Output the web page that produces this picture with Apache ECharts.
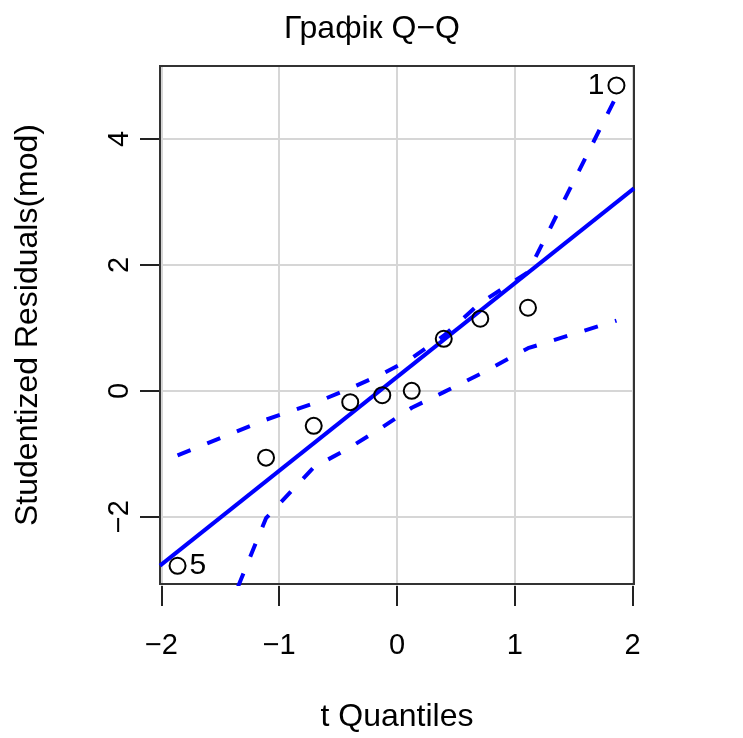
<!DOCTYPE html>
<html>
<head>
<meta charset="utf-8">
<script src="https://cdn.jsdelivr.net/npm/echarts@6/dist/echarts.min.js"></script>
<style>
  html, body { margin: 0; padding: 0; background: #fff; }
  #chart { width: 743px; height: 738px; }
</style>
</head>
<body>
<div id="chart"></div>
<script>
// t quantiles (x) and sorted studentized residuals (y)
var tQuantiles = [-1.863, -1.112, -0.707, -0.397, -0.125, 0.125, 0.397, 0.707, 1.112, 1.863];
var residuals = [-2.81, -1.085, -0.578, -0.2, -0.09, -0.02, 0.81, 1.13, 1.305, 4.85];
// simulated envelope
var upperBand = [-1.05, -0.48, -0.22, 0.02, 0.25, 0.5, 0.86, 1.38, 1.87, 4.68];
var lowerBand = [-5.5, -2.05, -1.24, -0.92, -0.6, -0.29, -0.04, 0.25, 0.66, 1.1];
// labelled observations (index -> id)
var pointIds = { 0: "5", 9: "1" };
// reference line
var lineIntercept = 0.2;
var lineSlope = 1.495;
// axes
var xTicks = [-2, -1, 0, 1, 2];
var yTicks = [-2, 0, 2, 4];
var xMin = -2.012, xMax = 2.012;
var yMin = -3.1, yMax = 5.16;

var FONT = "Liberation Sans, Arial, Helvetica, sans-serif";
function fmt(v) {
  return v < 0 ? "\u2212" + Math.abs(v) : String(v);
}

// plot box in pixels
var box = { left: 160, top: 66, width: 474, height: 520 };
// sub-boxes spanning exactly the tick range, so ticks start at a round value
var xFirst = xTicks[0], xLast = xTicks[xTicks.length - 1];
var yFirst = yTicks[0], yLast = yTicks[yTicks.length - 1];
var xScale = box.width / (xMax - xMin);
var yScale = box.height / (yMax - yMin);
var xTickBox = {
  left: box.left + (xFirst - xMin) * xScale,
  width: (xLast - xFirst) * xScale,
  top: box.top,
  height: box.height,
};
var yTickBox = {
  left: box.left,
  width: box.width,
  top: box.top + (yMax - yLast) * yScale,
  height: (yLast - yFirst) * yScale,
};

var pointData = [];
for (var i = 0; i < tQuantiles.length; i++) {
  var item = { value: [tQuantiles[i], residuals[i]] };
  if (pointIds[i]) {
    item.label = {
      show: true,
      formatter: pointIds[i],
      position: i === 0 ? "right" : "left",
      distance: 3,
      fontSize: 30,
      fontFamily: FONT,
      color: "#000",
    };
  }
  pointData.push(item);
}

var refLine = [xMin, xMax].map(function (x) {
  return [x, lineIntercept + lineSlope * x];
});

var dashStyle = { color: "#0000ff", width: 4, type: [14, 18], cap: "butt" };
var tickStyle = { show: true, length: 20, lineStyle: { color: "#222", width: 2 } };
var labelBase = { formatter: fmt, fontFamily: FONT, fontSize: 29, color: "#000" };
var gridLineStyle = { show: true, lineStyle: { color: "#d6d6d6", width: 2 } };
var hidden = { show: false };

var option = {
  animation: false,
  backgroundColor: "#fff",
  title: {
    text: "Графік Q\u2212Q",
    left: 367,
    top: 8,
    textAlign: "center",
    textStyle: { fontFamily: FONT, fontSize: 32, fontWeight: "normal", color: "#000" },
  },
  grid: [
    Object.assign({ show: true, borderColor: "#333", borderWidth: 2, backgroundColor: "transparent", z: 3 }, box),
    Object.assign({ show: false }, xTickBox),
    Object.assign({ show: false }, yTickBox),
  ],
  xAxis: [
    {
      gridIndex: 0, type: "value", min: xMin, max: xMax,
      name: "t Quantiles",
      nameLocation: "middle",
      nameGap: 117,
      nameTextStyle: { fontFamily: FONT, fontSize: 32, color: "#000" },
      axisLine: hidden, axisTick: hidden, axisLabel: hidden, splitLine: hidden,
    },
    {
      gridIndex: 1, type: "value", min: xFirst, max: xLast, interval: 1,
      axisLine: { show: false, onZero: false },
      axisTick: tickStyle,
      axisLabel: Object.assign({ margin: 45 }, labelBase),
      splitLine: gridLineStyle,
    },
    {
      gridIndex: 2, type: "value", min: xMin, max: xMax,
      axisLine: hidden, axisTick: hidden, axisLabel: hidden, splitLine: hidden,
    },
  ],
  yAxis: [
    {
      gridIndex: 0, type: "value", min: yMin, max: yMax,
      name: "Studentized Residuals(mod)",
      nameLocation: "middle",
      nameGap: 116,
      nameRotate: 90,
      nameTextStyle: { fontFamily: FONT, fontSize: 32, color: "#000" },
      axisLine: hidden, axisTick: hidden, axisLabel: hidden, splitLine: hidden,
    },
    {
      gridIndex: 1, type: "value", min: yMin, max: yMax,
      axisLine: hidden, axisTick: hidden, axisLabel: hidden, splitLine: hidden,
    },
    {
      gridIndex: 2, type: "value", min: yFirst, max: yLast, interval: 2,
      axisLine: { show: false, onZero: false },
      axisTick: tickStyle,
      axisLabel: Object.assign({ margin: 26, rotate: 90 }, labelBase),
      splitLine: gridLineStyle,
    },
  ],
  series: [
    {
      name: "upper",
      type: "line",
      xAxisIndex: 0, yAxisIndex: 0,
      data: tQuantiles.map(function (x, i) { return [x, upperBand[i]]; }),
      showSymbol: false,
      lineStyle: dashStyle,
      z: 3,
    },
    {
      name: "lower",
      type: "line",
      xAxisIndex: 0, yAxisIndex: 0,
      data: tQuantiles.map(function (x, i) { return [x, lowerBand[i]]; }),
      showSymbol: false,
      lineStyle: dashStyle,
      z: 3,
    },
    {
      name: "line",
      type: "line",
      xAxisIndex: 0, yAxisIndex: 0,
      data: refLine,
      showSymbol: false,
      lineStyle: { color: "#0000ff", width: 4 },
      z: 4,
    },
    {
      name: "residuals",
      type: "scatter",
      xAxisIndex: 0, yAxisIndex: 0,
      data: pointData,
      symbol: "circle",
      symbolSize: 16,
      itemStyle: { color: "rgba(0,0,0,0)", borderColor: "#000", borderWidth: 2, opacity: 1 },
      z: 5,
    },
  ],
};

var chart = echarts.init(document.getElementById("chart"));
chart.setOption(option);
</script>
</body>
</html>
